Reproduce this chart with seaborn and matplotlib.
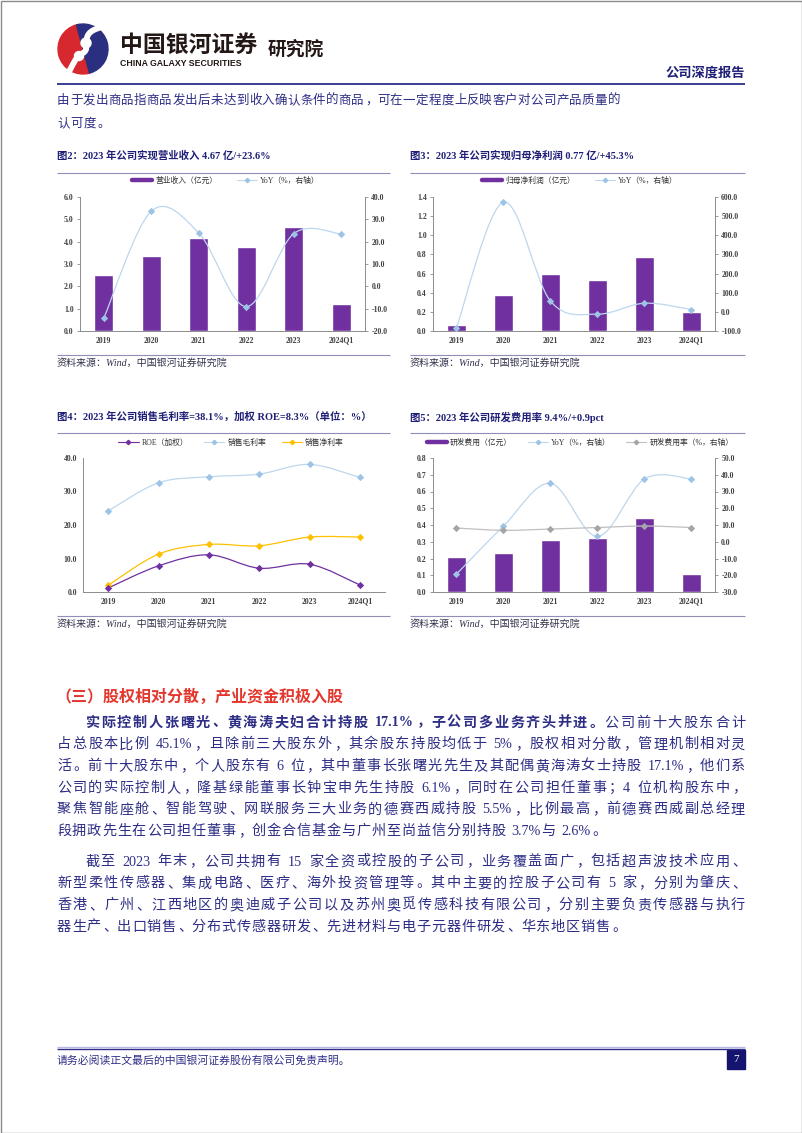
import re
import numpy as np
import matplotlib
matplotlib.use("Agg")
import matplotlib.pyplot as plt
import seaborn as sns
from matplotlib.path import Path
from matplotlib.patches import PathPatch, Rectangle, Wedge
from matplotlib.lines import Line2D
from matplotlib.ticker import FixedLocator, FormatStrFormatter

sns.set_style("white")
plt.rcParams["font.family"] = ["Liberation Serif", "Noto Sans CJK SC"]
plt.rcParams["axes.unicode_minus"] = False

# ---- data ----
cats = ["2019", "2020", "2021", "2022", "2023", "2024Q1"]
revenue = [2.52, 3.37, 4.15, 3.78, 4.67, 1.23]
revenue_yoy = [-14.3, 33.6, 23.9, -9.1, 23.6, 23.4]
profit = [0.06, 0.38, 0.60, 0.53, 0.77, 0.20]
profit_yoy = [-83.0, 573.0, 56.0, -12.0, 45.3, 12.0]
roe = [1.2, 7.8, 11.1, 7.1, 8.3, 2.1]
gross_margin = [24.2, 32.6, 34.4, 35.2, 38.1, 34.2]
net_margin = [2.0, 11.3, 14.2, 13.8, 16.4, 16.4]
rd_cost = [0.21, 0.23, 0.31, 0.32, 0.44, 0.11]
rd_yoy = [-19.3, 9.4, 34.9, 3.2, 37.5, 37.5]
rd_rate = [8.2, 6.8, 7.6, 8.5, 9.4, 8.5]

# colours
NAVY = "#1F1F78"
BODY_C = "#2E2E86"
RED = "#E3372E"
PURPLE = "#7030A0"
LB_LINE, LB_MARK = "#BDD7EE", "#9DC3E6"
GOLD = "#FFC000"
GR_LINE, GR_MARK = "#C0C0C0", "#A5A5A5"
SEP = "#8E8EB8"
TICK_C = "#404040"
FAM = ["Liberation Serif", "Noto Sans CJK SC"]

W, H = 802, 1133
fig = plt.figure(figsize=(W / 100, H / 100), dpi=100)
renderer = fig.canvas.get_renderer()

# full page overlay in pixel coordinates
bg = fig.add_axes([0, 0, 1, 1])
bg.set_xlim(0, W)
bg.set_ylim(H, 0)
bg.axis("off")


def rect(x0, y0, x1, y1):
    return [x0 / W, 1 - y1 / H, (x1 - x0) / W, (y1 - y0) / H]


def hline(y, x0, x1, color, lw):
    bg.plot([x0, x1], [y, y], color=color, lw=lw, solid_capstyle="butt")


PUNCT = "，。、；：！？（）"


def justify(pieces, x0, x1, y, size, color, fill=True):
    em = size * 100 / 72
    items = []
    for text, weight in pieces:
        for tok in re.findall(r"[\x21-\x7e]+| |[^\x00-\x7f]", text):
            if tok == " ":
                items.append((None, em * 0.3, "sp"))
            elif ord(tok[0]) < 128:
                t = bg.text(0, y, tok, fontsize=size, color=color, fontweight=weight,
                            va="center", ha="left", family=FAM)
                items.append((t, t.get_window_extent(renderer).width, "latin"))
            else:
                t = bg.text(0, y, tok, fontsize=size, color=color, fontweight=weight,
                            va="center", ha="left" if tok in PUNCT else "center", family=FAM)
                items.append((t, em, "punct" if tok in PUNCT else "cjk"))
    total = sum(w for _, w, _ in items)
    gap = (x1 - x0 - total) / (len(items) - 1) if fill else 0.8
    x = x0
    for t, w, kind in items:
        if t is not None:
            if kind == "cjk":
                t.set_x(x + w / 2)
            elif kind == "punct":
                t.set_x(x + w * 0.08)
            else:
                t.set_x(x)
        x += w + gap


def smooth(ax, xs, ys, color, lw=0.9):
    # Excel-style smoothed line through the data points (Catmull-Rom as Bezier)
    pts = np.column_stack([xs, ys]).astype(float)
    n = len(pts)
    verts, codes = [pts[0]], [Path.MOVETO]
    for i in range(n - 1):
        p0, p1 = pts[max(i - 1, 0)], pts[i]
        p2, p3 = pts[i + 1], pts[min(i + 2, n - 1)]
        verts += [p1 + (p2 - p0) / 6, p2 - (p3 - p1) / 6, p2]
        codes += [Path.CURVE4] * 3
    ax.add_patch(PathPatch(Path(verts, codes), fill=False, ec=color, lw=lw, zorder=2))


def markers(ax, xs, ys, color, s=14):
    sns.scatterplot(x=xs, y=ys, ax=ax, marker="D", s=s, color=color,
                    edgecolor=color, linewidth=0, zorder=3)


def style_left(ax, ticks, fmt="%.1f"):
    ax.set_facecolor("none")
    ax.set_xlim(-0.5, 5.5)
    ax.set_ylim(ticks[0], ticks[-1])
    ax.yaxis.set_major_locator(FixedLocator(ticks))
    ax.yaxis.set_major_formatter(FormatStrFormatter(fmt))
    for s in ["top", "right"]:
        ax.spines[s].set_visible(False)
    for s in ["left", "bottom"]:
        ax.spines[s].set_color("#8C8C8C")
        ax.spines[s].set_linewidth(0.7)
    ax.tick_params(axis="y", direction="out", length=2.5, width=0.6, color="#8C8C8C",
                   labelsize=5.6, labelcolor=TICK_C, pad=2)
    ax.tick_params(axis="x", length=0, labelsize=5.6, labelcolor=TICK_C, pad=4)
    ax.set_xticks(range(len(cats)))
    ax.set_xticklabels(cats)
    for lab in ax.get_xticklabels() + ax.get_yticklabels():
        lab.set_fontweight("bold")
    ax.set_xlabel("")
    ax.set_ylabel("")
    ax.grid(False)


def style_right(ax2, ticks):
    ax2.set_ylim(ticks[0], ticks[-1])
    ax2.yaxis.set_major_locator(FixedLocator(ticks))
    ax2.yaxis.set_major_formatter(FormatStrFormatter("%.1f"))
    for s in ["top", "left", "bottom"]:
        ax2.spines[s].set_visible(False)
    ax2.spines["right"].set_color("#8C8C8C")
    ax2.spines["right"].set_linewidth(0.7)
    ax2.tick_params(axis="y", direction="out", length=2.5, width=0.6, color="#8C8C8C",
                    labelsize=5.6, labelcolor=TICK_C, pad=2)
    for lab in ax2.get_yticklabels():
        lab.set_fontweight("bold")
    ax2.set_ylabel("")
    ax2.grid(False)


def panel_frame(x0, x1, title, y_title, y_sep, y_bot):
    bg.text(x0, y_title, title, fontsize=7.5, fontweight="bold", color=NAVY,
            va="center", ha="left", family=FAM)
    hline(y_sep, x0, x1, SEP, 0.8)
    hline(y_bot, x0, x1, SEP, 0.8)
    bg.text(x0, y_bot + 8, "资料来源：Wind，中国银河证券研究院", fontsize=7.2, style="italic",
            color="#33334D", va="center", ha="left", family=FAM)


def legend(ax, handles, labels, cx, cy, colsp=2.5):
    leg = ax.legend(handles, labels, loc="center", bbox_to_anchor=(cx, cy),
                    bbox_transform=bg.transData, ncol=len(handles), frameon=False,
                    prop=dict(family=FAM, size=5.6), handlelength=2.6,
                    columnspacing=colsp, handletextpad=0.4, borderaxespad=0)
    for t in leg.get_texts():
        t.set_color("#303030")


pos = np.arange(len(cats))
bar_h = lambda c: Line2D([], [], color=c, lw=3.2)
line_h = lambda lc, mc: Line2D([], [], color=lc, lw=0.8, marker="D", ms=2.2, mfc=mc, mec=mc)

# ---- header ----
bg.add_patch(Wedge((83, 49), 25, 75, 255, color="#D7282F"))
bg.add_patch(Wedge((83, 49), 25, -105, 75, color="#2B2F7F"))
s_curve = Path([(99, 28), (78, 34), (92, 48), (83, 53), (74, 58), (73, 66), (68, 73)],
               [Path.MOVETO, Path.CURVE4, Path.CURVE4, Path.CURVE4, Path.CURVE4, Path.CURVE4, Path.CURVE4])
bg.add_patch(PathPatch(s_curve, fill=False, ec="white", lw=4.2, capstyle="round"))
bg.add_patch(Wedge((86, 43), 5, 0, 360, color="white"))
bg.add_patch(Wedge((79, 56), 4.5, 0, 360, color="white"))
bg.text(120, 45, "中国银河证券", fontsize=16.5, fontweight="bold", color="#231815",
        va="center", ha="left", family=["Noto Sans CJK SC"])
bg.text(120, 63, "CHINA GALAXY SECURITIES", fontsize=6.3, fontweight="bold", color="#231815",
        va="center", ha="left", family=["Liberation Sans"])
bg.text(268, 49, "研究院", fontsize=13.5, fontweight="bold", color="#231815",
        va="center", ha="left", family=["Noto Sans CJK SC"])
bg.text(745, 72, "公司深度报告", fontsize=9.5, fontweight="bold", color=NAVY,
        va="center", ha="right", family=["Noto Sans CJK SC"])
hline(84, 57, 745, "#2E2E8A", 1.3)

justify([("由于发出商品指商品发出后未达到收入确认条件的商品，可在一定程度上反映客户对公司产品质量的", "normal")],
        57, 620, 101, 9.0, BODY_C)
justify([("认可度。", "normal")], 57, 620, 124, 9.0, BODY_C, fill=False)

# ---- figure 2: revenue ----
panel_frame(57, 390, "图2：2023 年公司实现营业收入 4.67 亿/+23.6%", 156, 173, 355)
ax = fig.add_axes(rect(80, 197, 365, 331))
sns.barplot(x=cats, y=revenue, ax=ax, color=PURPLE, width=0.4, saturation=1)
style_left(ax, [0, 1, 2, 3, 4, 5, 6])
ax2 = ax.twinx()
smooth(ax2, pos, revenue_yoy, LB_LINE)
markers(ax2, pos, revenue_yoy, LB_MARK)
style_right(ax2, [-20, -10, 0, 10, 20, 30, 40])
legend(ax2, [bar_h(PURPLE), line_h(LB_LINE, LB_MARK)], ["营业收入（亿元）", "YoY（%，右轴）"], 226, 181)

# ---- figure 3: net profit ----
panel_frame(410, 745, "图3：2023 年公司实现归母净利润 0.77 亿/+45.3%", 156, 173, 355)
ax = fig.add_axes(rect(433, 197, 715, 331))
sns.barplot(x=cats, y=profit, ax=ax, color=PURPLE, width=0.4, saturation=1)
style_left(ax, [0, 0.2, 0.4, 0.6, 0.8, 1.0, 1.2, 1.4])
ax2 = ax.twinx()
smooth(ax2, pos, profit_yoy, LB_LINE)
markers(ax2, pos, profit_yoy, LB_MARK)
style_right(ax2, [-100, 0, 100, 200, 300, 400, 500, 600])
legend(ax2, [bar_h(PURPLE), line_h(LB_LINE, LB_MARK)], ["归母净利润（亿元）", "YoY（%，右轴）"], 580, 181)

# ---- figure 4: margins ----
panel_frame(57, 390, "图4：2023 年公司销售毛利率=38.1%，加权 ROE=8.3%（单位：%）", 417, 433, 616)
ax = fig.add_axes(rect(83, 458, 385, 592))
for vals, lc, mc in [(gross_margin, LB_LINE, LB_MARK), (net_margin, GOLD, GOLD), (roe, PURPLE, PURPLE)]:
    smooth(ax, pos, vals, lc)
    markers(ax, pos, vals, mc)
style_left(ax, [0, 10, 20, 30, 40])
legend(ax, [line_h(PURPLE, PURPLE), line_h(LB_LINE, LB_MARK), line_h(GOLD, GOLD)],
       ["ROE（加权）", "销售毛利率", "销售净利率"], 231, 443, colsp=2.0)

# ---- figure 5: R&D ----
panel_frame(410, 745, "图5：2023 年公司研发费用率 9.4%/+0.9pct", 417, 433, 616)
ax = fig.add_axes(rect(433, 458, 715, 592))
sns.barplot(x=cats, y=rd_cost, ax=ax, color=PURPLE, width=0.4, saturation=1)
style_left(ax, [0, 0.1, 0.2, 0.3, 0.4, 0.5, 0.6, 0.7, 0.8])
ax2 = ax.twinx()
smooth(ax2, pos, rd_yoy, LB_LINE)
markers(ax2, pos, rd_yoy, LB_MARK)
smooth(ax2, pos, rd_rate, GR_LINE)
markers(ax2, pos, rd_rate, GR_MARK)
style_right(ax2, [-30, -20, -10, 0, 10, 20, 30, 40, 50])
legend(ax2, [bar_h(PURPLE), line_h(LB_LINE, LB_MARK), line_h(GR_LINE, GR_MARK)],
       ["研发费用（亿元）", "YoY（%，右轴）", "研发费用率（%，右轴）"], 580, 443, colsp=2.0)

# ---- section text ----
bg.text(55, 697, "（三）股权相对分散，产业资金积极入股", fontsize=11.5, fontweight="bold", color=RED,
        va="center", ha="left", family=["Noto Sans CJK SC"])

para1 = [
    [("实际控制人张曙光、黄海涛夫妇合计持股 17.1%，子公司多业务齐头并进。", "bold"), ("公司前十大股东合计", "normal")],
    [("占总股本比例 45.1%，且除前三大股东外，其余股东持股均低于 5%，股权相对分散，管理机制相对灵", "normal")],
    [("活。前十大股东中，个人股东有 6 位，其中董事长张曙光先生及其配偶黄海涛女士持股 17.1%，他们系", "normal")],
    [("公司的实际控制人，隆基绿能董事长钟宝申先生持股 6.1%，同时在公司担任董事；4 位机构股东中，", "normal")],
    [("聚焦智能座舱、智能驾驶、网联服务三大业务的德赛西威持股 5.5%，比例最高，前德赛西威副总经理", "normal")],
    [("段拥政先生在公司担任董事，创金合信基金与广州至尚益信分别持股 3.7%与 2.6%。", "normal")],
]
para2 = [
    [("截至 2023 年末，公司共拥有 15 家全资或控股的子公司，业务覆盖面广，包括超声波技术应用、", "normal")],
    [("新型柔性传感器、集成电路、医疗、海外投资管理等。其中主要的控股子公司有 5 家，分别为肇庆、", "normal")],
    [("香港、广州、江西地区的奥迪威子公司以及苏州奥觅传感科技有限公司，分别主要负责传感器与执行", "normal")],
    [("器生产、出口销售、分布式传感器研发、先进材料与电子元器件研发、华东地区销售。", "normal")],
]
for para, y0 in [(para1, 723), (para2, 862)]:
    for i, pieces in enumerate(para):
        x0 = 85 if i == 0 else 57
        last = i == len(para) - 1
        justify(pieces, x0, 745, y0 + i * 21.7, 10.2, BODY_C, fill=not last)

# ---- footer ----
hline(1047, 57, 745, "#B8B8E6", 1.0)
hline(1049, 57, 745, "#2E2E8A", 1.0)
bg.text(57, 1060, "请务必阅读正文最后的中国银河证券股份有限公司免责声明。", fontsize=7.8, color=BODY_C,
        va="center", ha="left", family=FAM)
bg.add_patch(Rectangle((727, 1050), 18, 19, color="#14146E"))
bg.text(736, 1059.5, "7", fontsize=8, color="white", va="center", ha="center", family=FAM)

# page border
bg.add_patch(Rectangle((0.5, 0.5), W - 1, H - 1, fill=False, ec="#8A8A8A", lw=1.0))

fig.savefig("out.png", dpi=100)
